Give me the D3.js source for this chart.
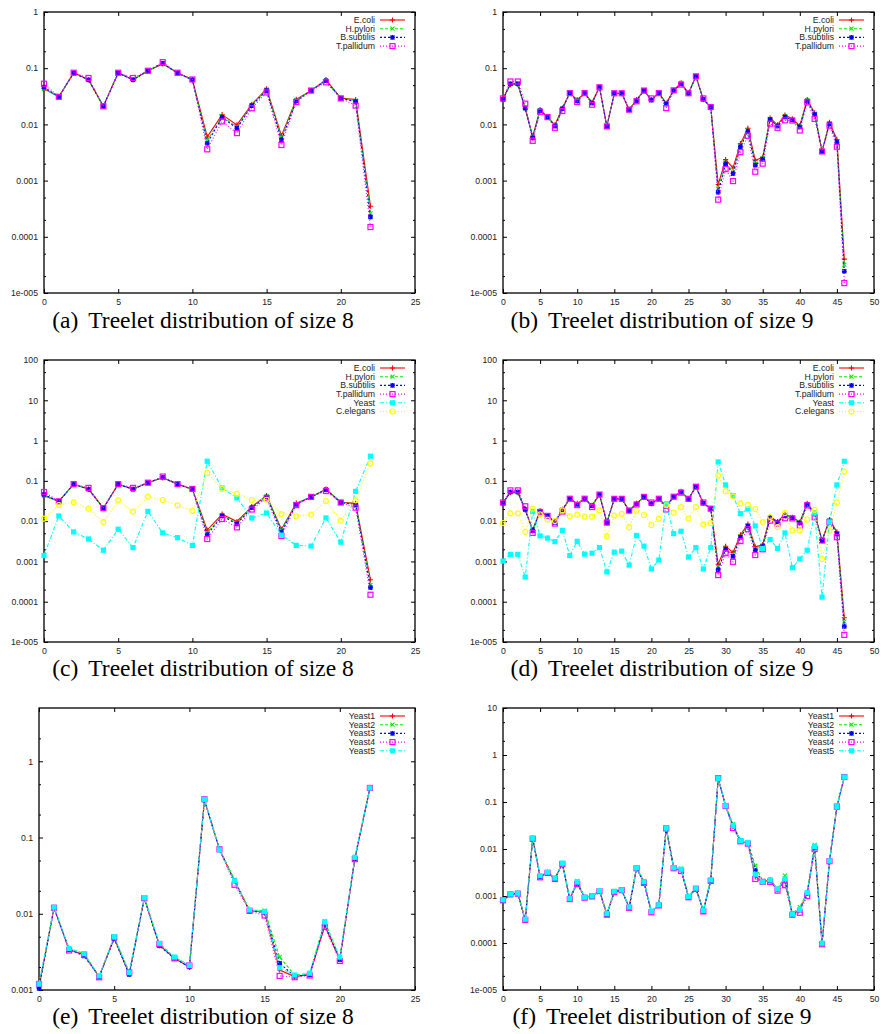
<!DOCTYPE html>
<html>
<head>
<meta charset="utf-8">
<title>Treelet distributions</title>
<script src="https://d3js.org/d3.v7.min.js"></script>
<style>
  body { margin: 0; background: #fff; }
  .tick text { font-family: "Liberation Sans", Arial, Helvetica, sans-serif; font-size: 8.7px; fill: #222; }
  .legend text { font-family: "Liberation Sans", Arial, Helvetica, sans-serif; font-size: 8.7px; fill: #222; }
  .caption { font-family: "Liberation Serif", "Times New Roman", serif; font-size: 23.5px; fill: #000; }
</style>
</head>
<body>
<div id="chart"></div>
<script>

// ---- size 8 treelets (panels a, c) ----
var ecoli8     = [0.043, 0.031, 0.083, 0.0625, 0.021, 0.083, 0.0625, 0.090, 0.119, 0.083, 0.0625, 0.0060, 0.0149, 0.0098, 0.0228, 0.043, 0.0063, 0.028, 0.040, 0.0625, 0.0295, 0.0276, 0.00035];
var hpylori8   = [0.043, 0.031, 0.082, 0.062, 0.021, 0.082, 0.062, 0.090, 0.120, 0.082, 0.062, 0.0051, 0.0140, 0.0089, 0.0222, 0.042, 0.0058, 0.027, 0.040, 0.061, 0.0295, 0.0265, 0.00026];
var bsubtilis8 = [0.046, 0.031, 0.082, 0.062, 0.021, 0.082, 0.062, 0.090, 0.122, 0.082, 0.062, 0.0046, 0.0134, 0.0085, 0.0216, 0.040, 0.0053, 0.026, 0.040, 0.060, 0.029, 0.0255, 0.000225];
var tpallidum8 = [0.053, 0.031, 0.083, 0.067, 0.021, 0.083, 0.067, 0.090, 0.128, 0.083, 0.063, 0.0036, 0.0113, 0.0070, 0.0194, 0.037, 0.0043, 0.025, 0.040, 0.056, 0.029, 0.0216, 0.000149];
var yeast8     = [0.0014, 0.0134, 0.0054, 0.0036, 0.0019, 0.0063, 0.0022, 0.0175, 0.0051, 0.0039, 0.0025, 0.306, 0.0666, 0.0376, 0.012, 0.0159, 0.0045, 0.0025, 0.0024, 0.012, 0.003, 0.055, 0.408];
var celegans8  = [0.0115, 0.0252, 0.0293, 0.0204, 0.0095, 0.0329, 0.0172, 0.0406, 0.0335, 0.0247, 0.0179, 0.157, 0.063, 0.048, 0.0335, 0.034, 0.015, 0.0132, 0.0145, 0.0316, 0.0103, 0.0329, 0.273];

// ---- size 9 treelets (panels b, d) ----
var ecoli9     = [0.029, 0.051, 0.051, 0.0188, 0.0061, 0.0183, 0.0135, 0.0098, 0.0195, 0.036, 0.0276, 0.036, 0.0247, 0.0457, 0.0092, 0.0358, 0.0358, 0.0183, 0.0276, 0.040, 0.0276, 0.036, 0.024, 0.0403, 0.0546, 0.0358, 0.0716, 0.0276, 0.0204, 0.00085, 0.00236, 0.00168, 0.00454, 0.0085, 0.0023, 0.0026, 0.013, 0.0098, 0.0147, 0.0125, 0.0095, 0.0276, 0.016, 0.0033, 0.0109, 0.0054, 0.000040];
var hpylori9   = [0.0275, 0.052, 0.052, 0.019, 0.006, 0.018, 0.0135, 0.0095, 0.019, 0.036, 0.027, 0.036, 0.024, 0.046, 0.0092, 0.0358, 0.0358, 0.0183, 0.027, 0.040, 0.027, 0.036, 0.0235, 0.0403, 0.055, 0.0358, 0.071, 0.0276, 0.0204, 0.00072, 0.0021, 0.0014, 0.0042, 0.0078, 0.0020, 0.0025, 0.0125, 0.0095, 0.014, 0.0122, 0.009, 0.027, 0.0155, 0.0033, 0.0105, 0.005, 0.000032];
var bsubtilis9 = [0.028, 0.053, 0.053, 0.0195, 0.0058, 0.0175, 0.0135, 0.0093, 0.019, 0.036, 0.026, 0.036, 0.024, 0.046, 0.0092, 0.0358, 0.0358, 0.0183, 0.0265, 0.040, 0.027, 0.036, 0.023, 0.0403, 0.052, 0.0358, 0.071, 0.028, 0.0204, 0.00062, 0.0020, 0.00133, 0.0040, 0.0075, 0.00188, 0.0024, 0.0122, 0.0093, 0.0135, 0.012, 0.009, 0.026, 0.015, 0.0033, 0.0102, 0.0048, 0.0000243];
var tpallidum9 = [0.029, 0.058, 0.058, 0.0234, 0.0051, 0.0168, 0.0135, 0.0087, 0.0173, 0.036, 0.025, 0.036, 0.0224, 0.0457, 0.0092, 0.0358, 0.0358, 0.0183, 0.0258, 0.040, 0.029, 0.036, 0.0195, 0.0403, 0.051, 0.0358, 0.0716, 0.029, 0.0204, 0.000458, 0.0016, 0.00098, 0.0032, 0.0063, 0.00144, 0.0020, 0.0103, 0.0087, 0.0118, 0.0117, 0.0078, 0.0247, 0.0125, 0.0033, 0.0095, 0.0040, 0.000015];
var yeast9     = [0.00102, 0.0015, 0.0015, 0.00041, 0.0175, 0.0043, 0.0038, 0.0031, 0.0059, 0.0014, 0.00315, 0.00152, 0.0016, 0.0022, 0.00055, 0.0017, 0.0018, 0.00081, 0.0044, 0.0024, 0.00065, 0.00108, 0.027, 0.0049, 0.0056, 0.00128, 0.0022, 0.00065, 0.0022, 0.295, 0.079, 0.043, 0.0153, 0.02, 0.0076, 0.0021, 0.0035, 0.0021, 0.0051, 0.0007, 0.00115, 0.0019, 0.016, 0.00013, 0.0095, 0.079, 0.306];
var celegans9  = [0.009, 0.0156, 0.0156, 0.0054, 0.0204, 0.0148, 0.0109, 0.0101, 0.0185, 0.0132, 0.0145, 0.0129, 0.0129, 0.0185, 0.0042, 0.0137, 0.0152, 0.007, 0.018, 0.0142, 0.008, 0.0115, 0.0247, 0.0162, 0.0224, 0.0115, 0.0224, 0.0083, 0.009, 0.135, 0.055, 0.0413, 0.0277, 0.0252, 0.02, 0.0095, 0.0126, 0.0071, 0.016, 0.0059, 0.0059, 0.011, 0.019, 0.00115, 0.0057, 0.0293, 0.17];

// ---- five yeast networks, size 8 (panel e) ----
var yeast1_8 = [0.0011, 0.0120, 0.0034, 0.0029, 0.0015, 0.0048, 0.0016, 0.0160, 0.0039, 0.0026, 0.0020, 0.310, 0.070, 0.027, 0.0110, 0.0105, 0.00183, 0.00150, 0.00160, 0.0070, 0.0025, 0.053, 0.44];
var yeast2_8 = [0.0011, 0.0121, 0.0035, 0.0030, 0.0015, 0.0049, 0.0017, 0.0161, 0.0040, 0.0027, 0.0021, 0.312, 0.071, 0.028, 0.0112, 0.0110, 0.0027, 0.00157, 0.00162, 0.0080, 0.0026, 0.054, 0.445];
var yeast3_8 = [0.00105, 0.0119, 0.0034, 0.0028, 0.0015, 0.0047, 0.0016, 0.0158, 0.0038, 0.0026, 0.0020, 0.310, 0.069, 0.027, 0.0109, 0.0104, 0.00224, 0.00152, 0.00158, 0.0074, 0.0025, 0.053, 0.44];
var yeast4_8 = [0.0012, 0.0120, 0.0033, 0.0029, 0.00147, 0.0049, 0.0017, 0.0160, 0.0040, 0.0026, 0.0021, 0.318, 0.070, 0.024, 0.0109, 0.0095, 0.00153, 0.00147, 0.00155, 0.0067, 0.0024, 0.052, 0.447];
var yeast5_8 = [0.0012, 0.0122, 0.0035, 0.0030, 0.00153, 0.0050, 0.0017, 0.0163, 0.0041, 0.0027, 0.0021, 0.317, 0.069, 0.027, 0.0112, 0.0107, 0.00196, 0.00157, 0.00166, 0.0078, 0.0027, 0.055, 0.447];

// ---- five yeast networks, size 9 (panel f) ----
var yeast1_9 = [0.00082, 0.0011, 0.00114, 0.00031, 0.0168, 0.0026, 0.0032, 0.0024, 0.0049, 0.00087, 0.0019, 0.00093, 0.001, 0.0013, 0.00041, 0.00124, 0.00134, 0.00057, 0.0039, 0.002, 0.00046, 0.00064, 0.0275, 0.004, 0.0036, 0.00097, 0.00145, 0.00048, 0.0022, 0.315, 0.082, 0.031, 0.0148, 0.0136, 0.0026, 0.002, 0.0022, 0.0014, 0.0021, 0.0004, 0.00051, 0.00115, 0.011, 0.000097, 0.0055, 0.08, 0.335];
var yeast2_9 = [0.00083, 0.0011, 0.00116, 0.00032, 0.0172, 0.0027, 0.0032, 0.0024, 0.005, 0.00089, 0.0021, 0.00095, 0.001, 0.0013, 0.00042, 0.00127, 0.00136, 0.00058, 0.004, 0.0021, 0.00048, 0.00066, 0.0285, 0.0041, 0.0038, 0.001, 0.00148, 0.0005, 0.0022, 0.32, 0.084, 0.034, 0.0152, 0.014, 0.0044, 0.0021, 0.0022, 0.0014, 0.0027, 0.00042, 0.00058, 0.0012, 0.0123, 0.0001, 0.0057, 0.081, 0.34];
var yeast3_9 = [0.0008, 0.00108, 0.00113, 0.0003, 0.0168, 0.0026, 0.0031, 0.0023, 0.0048, 0.00085, 0.0019, 0.00092, 0.00098, 0.00128, 0.0004, 0.00122, 0.00132, 0.00056, 0.0039, 0.0019, 0.00046, 0.00064, 0.0275, 0.0039, 0.0036, 0.00095, 0.00143, 0.00047, 0.0021, 0.315, 0.082, 0.031, 0.0148, 0.0135, 0.0035, 0.002, 0.0021, 0.00135, 0.0022, 0.0004, 0.0005, 0.00115, 0.0108, 0.000096, 0.0055, 0.079, 0.335];
var yeast4_9 = [0.00081, 0.00108, 0.00112, 0.00031, 0.0165, 0.0025, 0.0031, 0.0023, 0.0048, 0.00086, 0.0018, 0.00092, 0.00098, 0.00127, 0.0004, 0.00121, 0.00133, 0.00056, 0.0039, 0.0019, 0.00045, 0.00063, 0.0275, 0.0039, 0.0034, 0.00094, 0.00142, 0.00047, 0.0021, 0.32, 0.082, 0.028, 0.0146, 0.013, 0.0023, 0.002, 0.002, 0.0013, 0.0017, 0.0004, 0.00044, 0.001, 0.01, 0.000094, 0.0055, 0.08, 0.34];
var yeast5_9 = [0.00083, 0.0011, 0.00115, 0.00032, 0.017, 0.0027, 0.0032, 0.0024, 0.005, 0.00088, 0.0020, 0.00094, 0.001, 0.0013, 0.00042, 0.00126, 0.00135, 0.00058, 0.004, 0.002, 0.00047, 0.00065, 0.028, 0.004, 0.0037, 0.00098, 0.00147, 0.00049, 0.0022, 0.318, 0.083, 0.0317, 0.015, 0.0138, 0.0029, 0.002, 0.0022, 0.0014, 0.0023, 0.00041, 0.00052, 0.00119, 0.0113, 0.0000986, 0.0056, 0.0806, 0.34];

// legend names
var bacteriaNames = ["E.coli", "H.pylori", "B.subtilis", "T.pallidum"];
var allNames = ["E.coli", "H.pylori", "B.subtilis", "T.pallidum", "Yeast", "C.elegans"];
var yeastNames = ["Yeast1", "Yeast2", "Yeast3", "Yeast4", "Yeast5"];

// tick values and labels
var xTicks25 = [0, 5, 10, 15, 20, 25];
var xTicks50 = [0, 5, 10, 15, 20, 25, 30, 35, 40, 45, 50];
var yTickValues = [1e-5, 1e-4, 1e-3, 1e-2, 1e-1, 1, 10, 100];
var yTickLabels = ["1e-005", "0.0001", "0.001", "0.01", "0.1", "1", "10", "100"];

// gnuplot-like line styles
var styles = [
  {color: "#ff0000", dash: null,      marker: "plus"},
  {color: "#00ee00", dash: "3,2",     marker: "cross"},
  {color: "#0000ff", dash: "2,2",     marker: "star"},
  {color: "#ff00ff", dash: "1,2",     marker: "openSquare"},
  {color: "#00ffff", dash: "4,2,1,2", marker: "filledSquare"},
  {color: "#ffff00", dash: "1,2",     marker: "openCircle"}
];

var panels = [
  {left: 44,  right: 415, top: 12,  bottom: 293, xTicks: xTicks25, yMin: 1e-5, yMax: 1,
   names: bacteriaNames, series: [ecoli8, hpylori8, bsubtilis8, tpallidum8],
   tag: "(a)", caption: "Treelet distribution of size 8", cx: 203, cy: 328},
  {left: 503, right: 874, top: 12,  bottom: 293, xTicks: xTicks50, yMin: 1e-5, yMax: 1,
   names: bacteriaNames, series: [ecoli9, hpylori9, bsubtilis9, tpallidum9],
   tag: "(b)", caption: "Treelet distribution of size 9", cx: 662, cy: 328},
  {left: 44,  right: 415, top: 360, bottom: 642, xTicks: xTicks25, yMin: 1e-5, yMax: 100,
   names: allNames, series: [ecoli8, hpylori8, bsubtilis8, tpallidum8, yeast8, celegans8],
   tag: "(c)", caption: "Treelet distribution of size 8", cx: 203, cy: 676},
  {left: 503, right: 874, top: 360, bottom: 642, xTicks: xTicks50, yMin: 1e-5, yMax: 100,
   names: allNames, series: [ecoli9, hpylori9, bsubtilis9, tpallidum9, yeast9, celegans9],
   tag: "(d)", caption: "Treelet distribution of size 9", cx: 662, cy: 676},
  {left: 39,  right: 415, top: 708, bottom: 990, xTicks: xTicks25, yMin: 1e-3, yMax: 5,
   names: yeastNames, series: [yeast1_8, yeast2_8, yeast3_8, yeast4_8, yeast5_8],
   tag: "(e)", caption: "Treelet distribution of size 8", cx: 203, cy: 1024},
  {left: 503, right: 874, top: 708, bottom: 990, xTicks: xTicks50, yMin: 1e-5, yMax: 10,
   names: yeastNames, series: [yeast1_9, yeast2_9, yeast3_9, yeast4_9, yeast5_9],
   tag: "(f)", caption: "Treelet distribution of size 9", cx: 662, cy: 1024}
];

var svg = d3.select("#chart").append("svg")
    .attr("width", 881)
    .attr("height", 1034)
    .style("background", "#fff");

function drawMarker(g, type, color) {
  var s = 2.6;
  if (type == "plus") {
    g.append("path").attr("d", "M" + (-s) + ",0H" + s + "M0," + (-s) + "V" + s)
      .attr("stroke", color).attr("stroke-width", 1.1).attr("fill", "none");
  } else if (type == "cross") {
    g.append("path").attr("d", "M-2,-2L2,2M-2,2L2,-2")
      .attr("stroke", color).attr("stroke-width", 1.1).attr("fill", "none");
  } else if (type == "star") {
    g.append("path").attr("d", "M-2.4,0H2.4M0,-2.4V2.4M-2,-2L2,2M-2,2L2,-2")
      .attr("stroke", color).attr("stroke-width", 1.4).attr("fill", "none");
  } else if (type == "openSquare") {
    g.append("rect").attr("x", -2.5).attr("y", -2.5).attr("width", 5).attr("height", 5)
      .attr("stroke", color).attr("stroke-width", 1.2).attr("fill", "none");
  } else if (type == "filledSquare") {
    g.append("rect").attr("x", -2.6).attr("y", -2.6).attr("width", 5.2).attr("height", 5.2)
      .attr("fill", color);
  } else if (type == "openCircle") {
    g.append("circle").attr("r", 2.5)
      .attr("stroke", color).attr("stroke-width", 1.2).attr("fill", "none");
  }
}

function drawPanel(p) {
  var g = svg.append("g");

  var x = d3.scaleLinear().domain([0, p.xTicks[p.xTicks.length - 1]]).range([p.left, p.right]);
  var y = d3.scaleLog().domain([p.yMin, p.yMax]).range([p.bottom, p.top]);

  var majors = yTickValues.filter(function(v) { return v >= p.yMin * 0.999 && v <= p.yMax * 1.001; });
  var minors = [];
  majors.forEach(function(v) {
    [2, 5].forEach(function(m) { if (v * m < p.yMax * 0.999) minors.push(v * m); });
  });
  var fmt = function(d) {
    var i = yTickValues.findIndex(function(v) { return Math.abs(v - d) / v < 1e-6; });
    return yTickLabels[i];
  };

  // y axes (left with labels, right mirrored), ticks point inward
  g.append("g").attr("transform", "translate(" + p.left + ",0)")
    .call(d3.axisLeft(y).tickValues(majors).tickFormat(fmt).tickSize(-4).tickPadding(6));
  g.append("g").attr("transform", "translate(" + p.left + ",0)")
    .call(d3.axisLeft(y).tickValues(minors).tickFormat("").tickSize(-2));
  g.append("g").attr("transform", "translate(" + p.right + ",0)")
    .call(d3.axisRight(y).tickValues(majors).tickFormat("").tickSize(-4));
  g.append("g").attr("transform", "translate(" + p.right + ",0)")
    .call(d3.axisRight(y).tickValues(minors).tickFormat("").tickSize(-2));

  // x axes
  g.append("g").attr("transform", "translate(0," + p.bottom + ")")
    .call(d3.axisBottom(x).tickValues(p.xTicks).tickFormat(d3.format("d")).tickSize(-4).tickPadding(6));
  g.append("g").attr("transform", "translate(0," + p.top + ")")
    .call(d3.axisTop(x).tickValues(p.xTicks).tickFormat("").tickSize(-4));

  g.selectAll(".domain").remove();
  g.selectAll(".tick line").attr("stroke", "#000");

  // frame
  g.append("rect")
    .attr("x", p.left).attr("y", p.top)
    .attr("width", p.right - p.left).attr("height", p.bottom - p.top)
    .attr("fill", "none").attr("stroke", "#000").attr("stroke-width", 1.3);

  // series
  var line = d3.line()
    .x(function(d, i) { return x(i); })
    .y(function(d) { return y(d); });

  p.series.forEach(function(values, k) {
    var st = styles[k];
    g.append("path")
      .datum(values)
      .attr("d", line)
      .attr("fill", "none")
      .attr("stroke", st.color)
      .attr("stroke-width", 1.1)
      .attr("stroke-dasharray", st.dash);
    values.forEach(function(v, i) {
      var m = g.append("g").attr("transform", "translate(" + x(i) + "," + y(v) + ")");
      drawMarker(m, st.marker, st.color);
    });
  });

  // legend
  var lg = g.append("g").attr("class", "legend");
  p.names.forEach(function(name, k) {
    var st = styles[k];
    var ly = p.top + 8 + k * 8.7;
    lg.append("text")
      .attr("x", p.right - 40).attr("y", ly)
      .attr("dy", "0.34em")
      .attr("text-anchor", "end")
      .text(name);
    lg.append("line")
      .attr("x1", p.right - 35).attr("x2", p.right - 10)
      .attr("y1", ly).attr("y2", ly)
      .attr("stroke", st.color).attr("stroke-width", 1.1)
      .attr("stroke-dasharray", st.dash);
    var m = lg.append("g").attr("transform", "translate(" + (p.right - 22.5) + "," + ly + ")");
    drawMarker(m, st.marker, st.color);
  });

  // caption
  var cap = svg.append("text").attr("class", "caption")
    .attr("x", p.cx).attr("y", p.cy)
    .attr("text-anchor", "middle");
  cap.append("tspan").text(p.tag);
  cap.append("tspan").attr("dx", 10).text(p.caption);
}

panels.forEach(drawPanel);

</script>
</body>
</html>
